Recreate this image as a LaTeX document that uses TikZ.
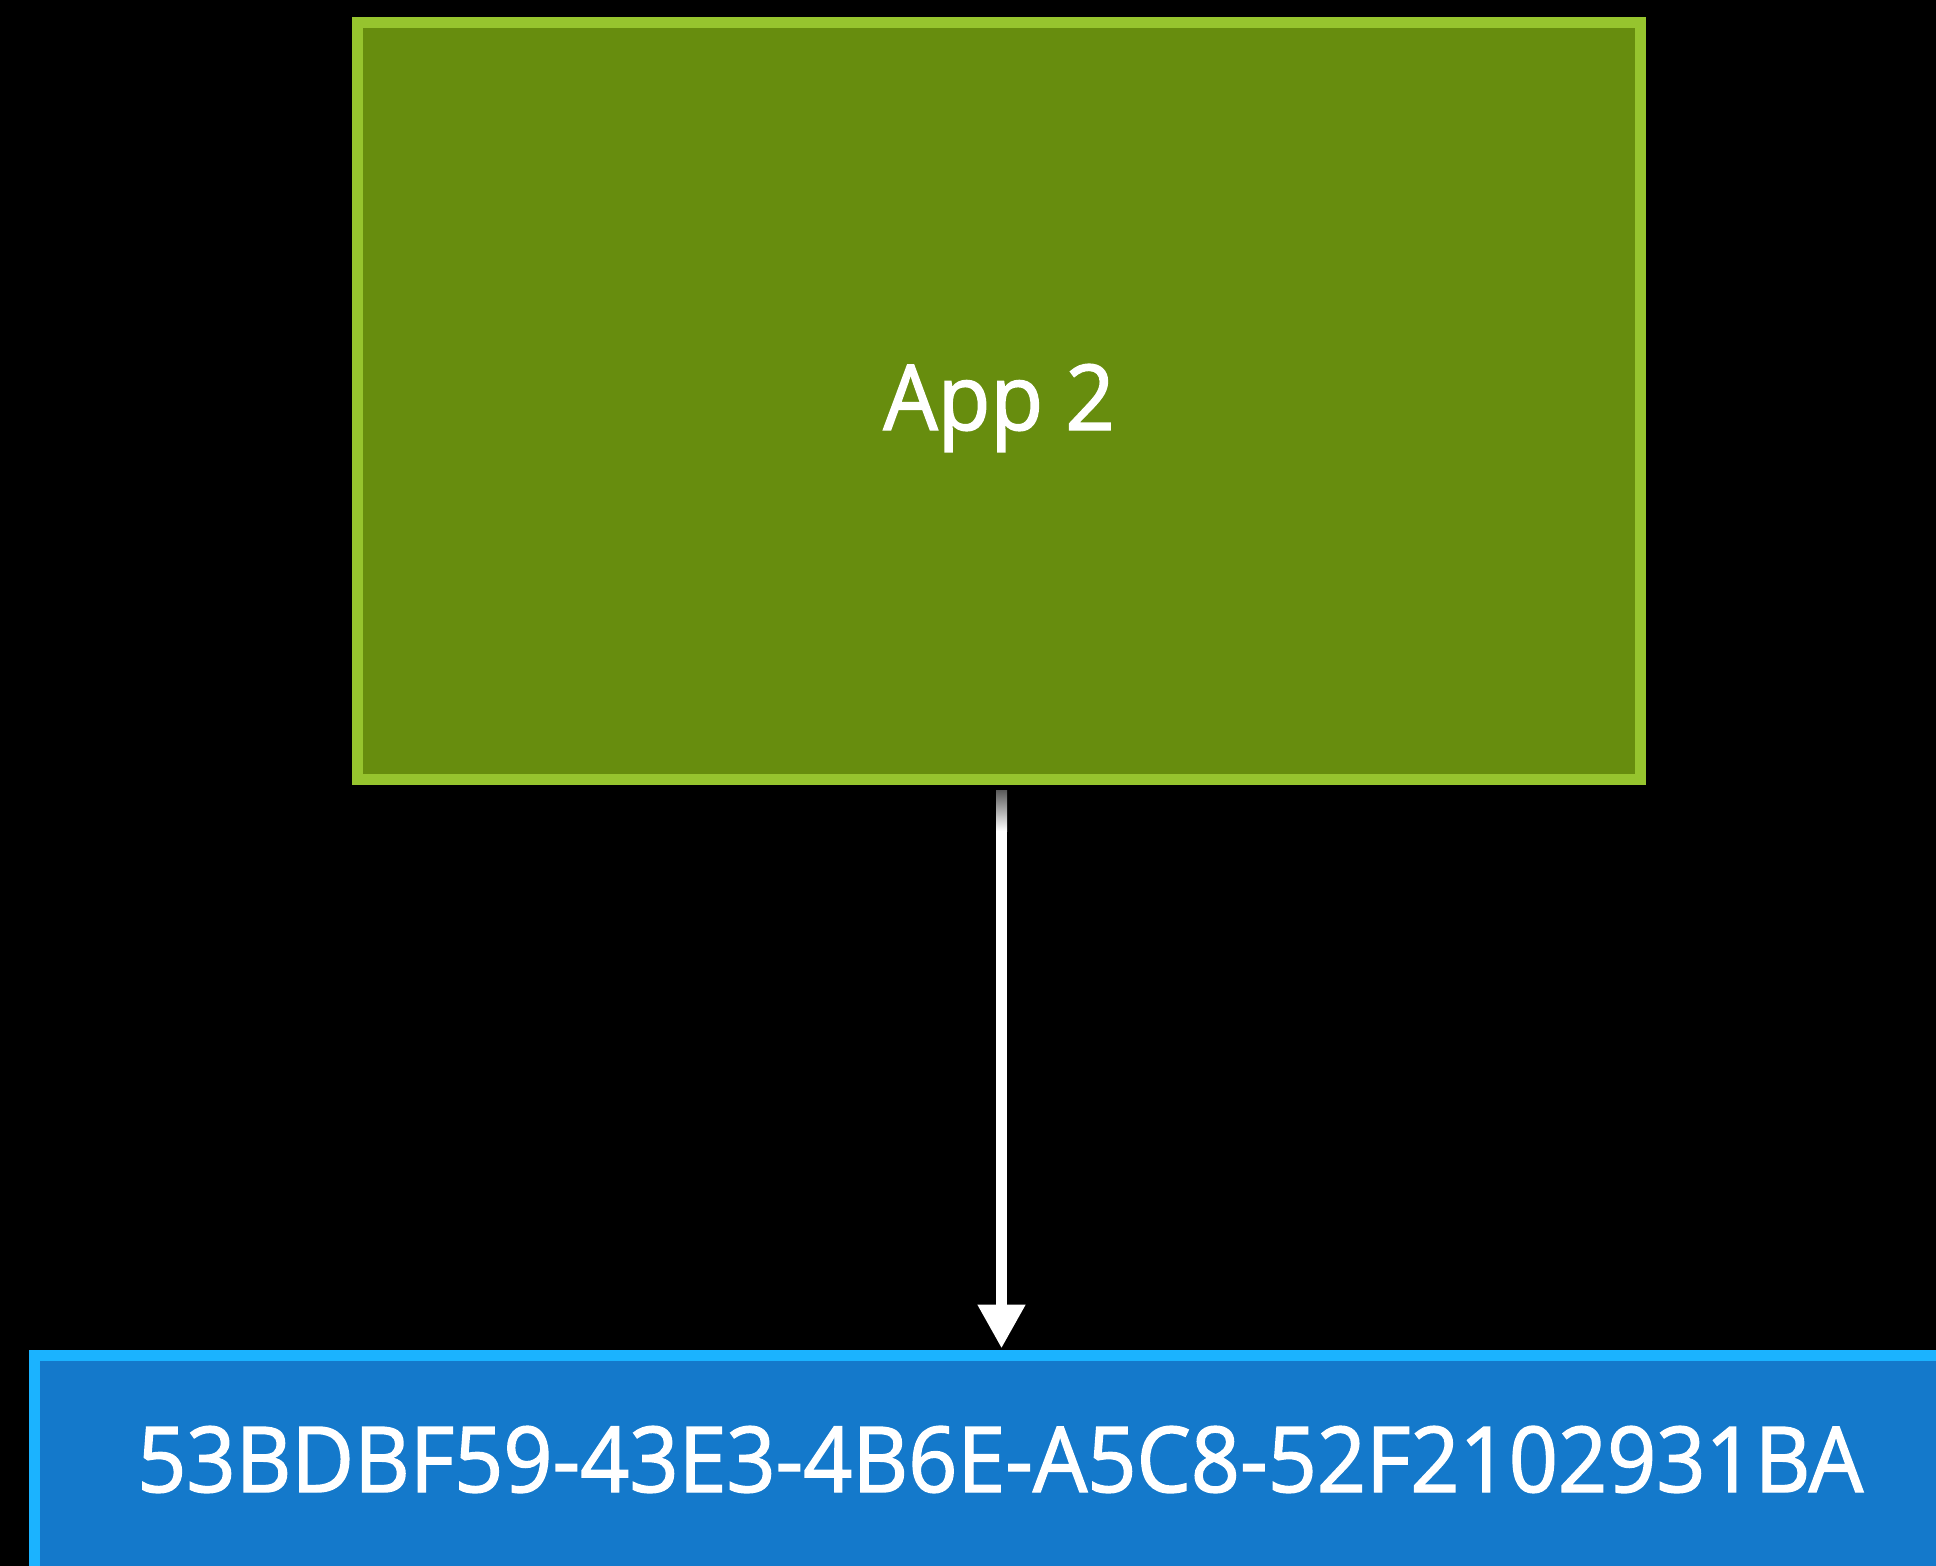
\documentclass[tikz,border=0pt]{standalone}
\usepackage{fontspec}
\setmainfont{Open Sans}[FakeStretch=0.945, FakeBold=1.6]
\usetikzlibrary{arrows.meta,calc}
\definecolor{appfill}{RGB}{103,141,14}
\definecolor{appline}{RGB}{150,196,46}
\definecolor{idfill}{RGB}{20,121,203}
\definecolor{idline}{RGB}{27,179,255}
\tikzset{
  appbox/.style={draw=appline, fill=appfill, line width=11pt, minimum width=1283pt,
    minimum height=757pt, inner sep=0pt, text=white},
  idbox/.style={draw=idline, fill=idfill, line width=11pt, minimum width=1966pt,
    minimum height=345pt, inner sep=0pt},
  bigtext/.style={text=white, font=\fontsize{91}{100}\selectfont, inner sep=0pt},
  flow/.style={draw=white, line width=11pt,
    -{Triangle[width=45pt,length=44pt]}}
}
\begin{document}
\begin{tikzpicture}[x=1pt,y=-1pt]
  \fill[black] (0,0) rectangle (1936,1566);
  \useasboundingbox (0,0) rectangle (1936,1566);
  % application box
  \node[appbox] (app) at (999,401) {};
  \node[bigtext, anchor=base] (applabel) at (999,430) {App 2};
  % identifier box, running off the right and bottom edges
  \node[idbox] (uuid) at (1017.5,1528) {};
  \node[bigtext, anchor=base] (uuidlabel) at (1000,1492) {53BDBF59-43E3-4B6E-A5C8-52F2102931BA};
  % connector from the app to the identifier
  \draw[flow, shorten <=5.5pt, shorten >=1.5pt]
    ([xshift=2.5pt]app.south) -- ([xshift=2.5pt]app.south |- uuid.north);
  % shadow where the connector leaves the app box
  \shade[top color=black!64, bottom color=white]
    ($(app.south)+(-3,5.5)$) rectangle ($(app.south)+(8,46)$);
\end{tikzpicture}
\end{document}
